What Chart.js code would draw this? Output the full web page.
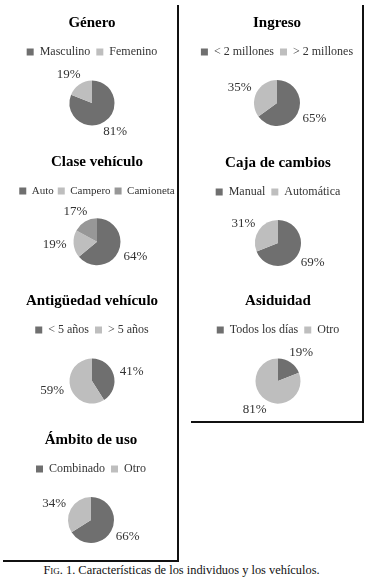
<!DOCTYPE html>
<html>
<head>
<meta charset="utf-8">
<script src="https://cdn.jsdelivr.net/npm/chart.js@4/dist/chart.umd.min.js"></script>
<style>
	body { margin: 0; background: #fff; width: 371px; height: 584px; position: relative; overflow: hidden; }
	canvas.pie { position: absolute; }
	.line { position: absolute; background: #111; }
	#caption { position: absolute; left: -4px; width: 371px; top: 563px; text-align: center;
		font: 12.4px "Liberation Serif", serif; color: #111; }
	#caption span { font-variant: small-caps; }
</style>
</head>
<body>
<div class="line" style="left:177px;top:5px;width:2px;height:557px"></div>
<div class="line" style="left:3px;top:560px;width:176px;height:2px"></div>
<div class="line" style="left:362px;top:5px;width:2px;height:418px"></div>
<div class="line" style="left:191px;top:421px;width:173px;height:2px"></div>
<div id="caption"><span>Fig</span>. 1. Características de los individuos y los vehículos.</div>

<script>
// data
const generoLabels = ["Masculino", "Femenino"];
const generoValues = [81, 19];

const claseLabels = ["Auto", "Campero", "Camioneta"];
const claseValues = [64, 19, 17];

const antiguedadLabels = ["< 5 años", "> 5 años"];
const antiguedadValues = [41, 59];

const ambitoLabels = ["Combinado", "Otro"];
const ambitoValues = [66, 34];

const ingresoLabels = ["< 2 millones", "> 2 millones"];
const ingresoValues = [65, 35];

const cajaLabels = ["Manual", "Automática"];
const cajaValues = [69, 31];

const asiduidadLabels = ["Todos los días", "Otro"];
const asiduidadValues = [19, 81];

const grays = ["#6f6f6f", "#bebebe", "#979797"];

const FONT = "'Liberation Serif', 'Times New Roman', serif";

// percentage labels outside the slices
const pctLabels = {
	id: "pctLabels",
	afterDatasetsDraw(chart) {
		var ctx = chart.ctx;
		var meta = chart.getDatasetMeta(0);
		var values = chart.data.datasets[0].data;
		ctx.save();
		ctx.font = "13px " + FONT;
		ctx.fillStyle = "#333";
		ctx.textAlign = "center";
		ctx.textBaseline = "middle";
		meta.data.forEach((arc, i) => {
			var p = arc.getProps(["x", "y", "startAngle", "endAngle", "outerRadius"], true);
			var mid = (p.startAngle + p.endAngle) / 2;
			var dx = Math.cos(mid), dy = Math.sin(mid);
			var txt = values[i] + "%";
			var w = ctx.measureText(txt).width;
			var r = p.outerRadius + 7;
			ctx.fillText(txt, p.x + dx * (r + w / 2), p.y + dy * (r + 4.5));
		});
		ctx.restore();
	},
};

function drawPie(title, labels, values, cx, titleY, radius, legendSize, legendPad) {
	legendSize = legendSize || 12;
	legendPad = legendPad || 6;
	var canvas = document.createElement("canvas");
	canvas.className = "pie";
	canvas.style.left = cx - 105 + "px";
	canvas.style.top = titleY - 23 + "px";
	canvas.style.width = "210px";
	canvas.style.height = "140px";
	canvas.width = 210;
	canvas.height = 140;
	document.body.appendChild(canvas);

	new Chart(canvas.getContext("2d"), {
		type: "pie",
		data: {
			labels: labels,
			datasets: [
				{
					data: values,
					backgroundColor: grays.slice(0, values.length),
					borderWidth: 0,
					hoverOffset: 0,
					radius: radius,
				},
			],
		},
		options: {
			responsive: false,
			animation: false,
			layout: { padding: { bottom: 2 } },
			plugins: {
				title: {
					display: true,
					text: title,
					color: "#000",
					font: { family: FONT, size: 15, weight: "bold" },
					padding: { top: 14, bottom: 20 - legendPad - legendSize / 2 },
				},
				legend: {
					position: "top",
					labels: {
						boxWidth: 7,
						boxHeight: 7,
						padding: legendPad,
						color: "#333",
						font: { family: FONT, size: legendSize },
					},
				},
				tooltip: { enabled: false },
			},
		},
		plugins: [pctLabels],
	});
}

drawPie("Género", generoLabels, generoValues, 91.5, 23, 22.5);
drawPie("Clase vehículo", claseLabels, claseValues, 96.5, 162, 23.5, 11, 4);
drawPie("Antigüedad vehículo", antiguedadLabels, antiguedadValues, 92, 301, 22.5);
drawPie("Ámbito de uso", ambitoLabels, ambitoValues, 91, 440, 23);
drawPie("Ingreso", ingresoLabels, ingresoValues, 277, 23, 23);
drawPie("Caja de cambios", cajaLabels, cajaValues, 277.5, 163, 23);
drawPie("Asiduidad", asiduidadLabels, asiduidadValues, 277.5, 301, 22.5);
</script>
</body>
</html>
